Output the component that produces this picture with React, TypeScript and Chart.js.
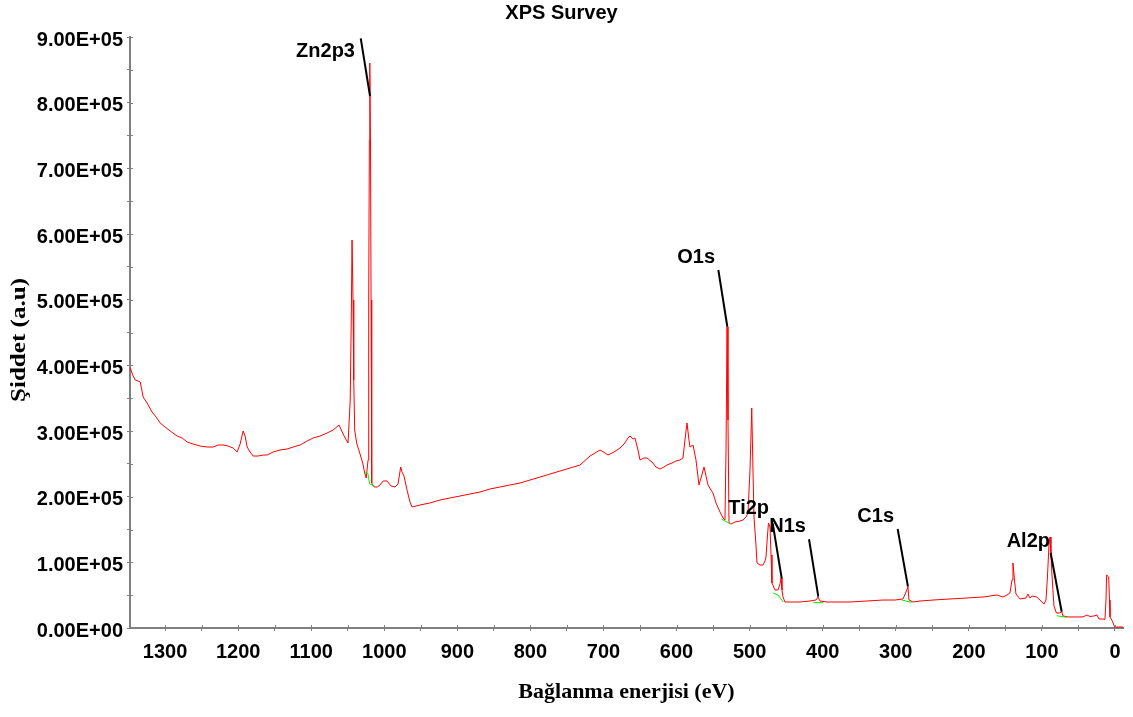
import React, { useEffect, useRef } from "react";
import { Chart, registerables } from "chart.js";

Chart.register(...registerables);

// Survey spectrum (binding energy in eV, intensity in counts)
const bindingEnergy = [1348, 1343.7, 1341, 1337, 1334, 1330, 1324.6, 1317.8, 1312.3, 1306.8, 1300, 1293, 1283.5, 1276.6, 1269.8, 1261.6, 1252, 1242.4, 1234.2, 1227.4, 1220.5, 1213.7, 1206.9, 1201.4, 1197.3, 1193.2, 1190.5, 1187.7, 1183.6, 1179.5, 1172.7, 1165.9, 1160.4, 1152.2, 1142.6, 1133, 1124.8, 1115.2, 1105.6, 1097.4, 1087.9, 1078.3, 1070.1, 1061.9, 1055, 1049.6, 1046.6, 1045.2, 1044.1, 1042.8, 1041.8, 1040.5, 1037.8, 1033.6, 1029.5, 1026.8, 1024.7, 1022.2, 1021.3, 1020.4, 1019.8, 1018.8, 1018.1, 1017.2, 1013.8, 1009.7, 1005.8, 1001.5, 996.3, 990.8, 985.3, 981.2, 977.5, 975.8, 973, 968.9, 964.8, 962, 956.5, 951, 937.4, 923.7, 910, 896.3, 882.6, 868.9, 855.3, 841.6, 827.9, 814.2, 800.5, 786.8, 773.1, 759.4, 745.8, 732.1, 718.4, 704.7, 697.9, 693.8, 685.6, 677.4, 671.9, 666.4, 663.7, 659.6, 656.9, 652.8, 650, 644.6, 640.5, 633.6, 628.2, 622.7, 617.2, 613.1, 606.2, 600.8, 595.3, 591.2, 588.5, 585.7, 583, 581.6, 577.5, 573.4, 569.3, 566.5, 562.4, 559.7, 557, 552.8, 550.1, 546, 540.5, 536.4, 533.7, 532.3, 530.9, 529.6, 528.2, 525.5, 520, 513.2, 509.1, 505, 502.2, 499.5, 497.1, 495.4, 494, 491.3, 489.9, 485.8, 481.7, 479, 477.6, 475.5, 474.2, 472.1, 470.7, 469.4, 465.3, 461.2, 458.4, 457, 455.7, 454.3, 451.6, 444.7, 431, 417.4, 409.2, 406.4, 403.7, 394.1, 383.2, 369.5, 362.6, 339.4, 317.5, 301, 290.1, 286, 283.3, 281.9, 276.4, 266.8, 249, 225.8, 202.5, 180.6, 171, 161.5, 157.4, 153.3, 147.8, 143.7, 140.9, 139.6, 137.5, 135.5, 130, 121.8, 119.1, 116.3, 113.6, 106.9, 101.3, 97.2, 94.4, 92.4, 90.3, 88.9, 87.6, 86.2, 83.5, 80.1, 75.3, 72.9, 71.2, 64.3, 54.7, 43.8, 38.3, 34.2, 28.7, 24.6, 21.9, 16.4, 13.7, 12.3, 11.4, 8.6, 7.5, 6.8, 2.9, 0, -2.7, -11];

const intensity = [397000, 383700, 377700, 376100, 374600, 351800, 342600, 328900, 321300, 312200, 306100, 300000, 292400, 289300, 283200, 280200, 277100, 275600, 275600, 278700, 278700, 277100, 274100, 268000, 280200, 300000, 292400, 275600, 268000, 261900, 261900, 263400, 263400, 268000, 271100, 272600, 275600, 278700, 284800, 289300, 292400, 296900, 301500, 309100, 292400, 281700, 347200, 469000, 590900, 499500, 377700, 301500, 281700, 266500, 251300, 236000, 228400, 255800, 499500, 743100, 860400, 728000, 499500, 220800, 214700, 214700, 217800, 223900, 223900, 216200, 214700, 219300, 245200, 237600, 231500, 210100, 191900, 184300, 185800, 187300, 190400, 194900, 198000, 201000, 204100, 207100, 211700, 214700, 217800, 220800, 225400, 229900, 234500, 239100, 243600, 248200, 261900, 271100, 266500, 263400, 268000, 274100, 280200, 289300, 292400, 287800, 289300, 271100, 255800, 258900, 258900, 252800, 245200, 242100, 245200, 248200, 251300, 254300, 255800, 258900, 286300, 312200, 286300, 275600, 278700, 255800, 217800, 228400, 245200, 231500, 217800, 210100, 205600, 190400, 176600, 167500, 164500, 271100, 458500, 316700, 159900, 158400, 161400, 162900, 164500, 169000, 175100, 240600, 335000, 240600, 169000, 126400, 99000, 95900, 95900, 102000, 108100, 141600, 159900, 153800, 111200, 68500, 57900, 57900, 67000, 76100, 57900, 47200, 39600, 39600, 39600, 41100, 42600, 47200, 41100, 39600, 39600, 39600, 39600, 41100, 42600, 42600, 44200, 54800, 62400, 42600, 39600, 41100, 42600, 44200, 45700, 47200, 48700, 50300, 48700, 47200, 50300, 53300, 73100, 99000, 73100, 51800, 44200, 45700, 51800, 45700, 48700, 47200, 41100, 36500, 42600, 77700, 126400, 138600, 111200, 80700, 33500, 22800, 22800, 25100, 18300, 16800, 16800, 16800, 19800, 17500, 18300, 19800, 13700, 13700, 13000, 42600, 80700, 77700, 42600, 16800, 9100, 0, 1500, 1500];

// Peak background (green) segments
const backgroundEnergy = [
  [1026.8, 1022.6, 1019.9, 1013.1],
  [538.5, 526.2],
  [467.6, 461.2, 453.9],
  [413, 399.3],
  [291.9, 278.2],
  [79.8, 66.1],
];
const backgroundIntensity = [
  [236000, 236000, 219300, 216200],
  [166000, 158400],
  [53300, 50300, 39600],
  [38600, 38600],
  [42600, 39100],
  [18700, 16300],
];

// Peak labels and leader lines
const peakNames = ["Zn2p3", "O1s", "Ti2p", "N1s", "C1s", "Al2p"];
const labelEnergy = [1120.7, 599, 529.2, 473.1, 352.6, 148.2];
const labelIntensity = [870000, 555400, 173600, 146600, 161900, 123800];
const leaderStartEnergy = [1032.2, 542.8, 468.4, 418.7, 297.4, 88];
const leaderStartIntensity = [898000, 545200, 159400, 135100, 150800, 114200];
const leaderEndEnergy = [1019.5, 530.5, 456.1, 406, 283.3, 72.9];
const leaderEndIntensity = [810100, 458800, 75700, 47700, 62900, 24800];

const xTickStep = 50;
const yTickStep = 50000;

function sci(v: number): string {
  if (v === 0) return "0.00E+00";
  const e = Math.floor(Math.log10(v) + 1e-9);
  const m = v / Math.pow(10, e);
  return m.toFixed(2) + "E+" + String(e).padStart(2, "0");
}

const overlayPlugin = {
  id: "xpsOverlay",
  afterDatasetsDraw(chart: any) {
    const { ctx, scales } = chart;
    const x = scales.x;
    const y = scales.y;
    ctx.save();
    ctx.fillStyle = "#000";
    ctx.font = 'bold 20px "Liberation Sans", Arial, sans-serif';
    ctx.textAlign = "left";
    ctx.textBaseline = "alphabetic";
    peakNames.forEach((n, i) => {
      ctx.fillText(n, x.getPixelForValue(labelEnergy[i]), y.getPixelForValue(labelIntensity[i]));
    });
    ctx.restore();
  },
  afterDraw(chart: any) {
    const { ctx, scales, chartArea } = chart;
    const x = scales.x;
    const y = scales.y;
    ctx.save();
    ctx.strokeStyle = "#808080";
    ctx.lineWidth = 1;
    ctx.beginPath();
    x.ticks.forEach((t: any) => {
      const px = Math.round(x.getPixelForValue(t.value)) + 0.5;
      ctx.moveTo(px, chartArea.bottom);
      ctx.lineTo(px, chartArea.bottom - 3);
    });
    y.ticks.forEach((t: any) => {
      const py = Math.round(y.getPixelForValue(t.value)) + 0.5;
      ctx.moveTo(chartArea.left, py);
      ctx.lineTo(chartArea.left + 3, py);
    });
    ctx.stroke();
    // y-axis title
    ctx.fillStyle = "#000";
    ctx.font = 'bold 22px "Liberation Serif", "Times New Roman", serif';
    ctx.textAlign = "center";
    ctx.textBaseline = "middle";
    const txt = "Şiddet (a.u)";
    const w = ctx.measureText(txt).width;
    ctx.translate(19, 340);
    ctx.rotate(-Math.PI / 2);
    ctx.scale(124 / w, 1);
    ctx.fillText(txt, 0, 0);
    ctx.restore();
  },
};

export default function App() {
  const ref = useRef<HTMLCanvasElement | null>(null);
  useEffect(() => {
    if (!ref.current) return;
    const spectrum = bindingEnergy.map((e, i) => ({ x: e, y: intensity[i] }));
    const bgSets = backgroundEnergy.map((arr, k) => ({
      data: arr.map((e, i) => ({ x: e, y: backgroundIntensity[k][i] })),
      borderColor: "#00ee00",
      borderWidth: 1,
      pointRadius: 0,
      tension: 0,
    }));
    const leaderSets = peakNames.map((_, i) => ({
      data: [
        { x: leaderStartEnergy[i], y: leaderStartIntensity[i] },
        { x: leaderEndEnergy[i], y: leaderEndIntensity[i] },
      ],
      borderColor: "#000",
      borderWidth: 2,
      pointRadius: 0,
      tension: 0,
    }));
    const chart = new Chart(ref.current, {
      type: "line",
      data: {
        datasets: [
          ...leaderSets,
          ...bgSets,
          {
            data: spectrum,
            borderColor: "#ff0000",
            borderWidth: 1,
            pointRadius: 0,
            tension: 0,
          },
        ] as any,
      },
      plugins: [overlayPlugin],
      options: {
        responsive: false,
        animation: false,
        devicePixelRatio: 1,
        layout: { padding: { top: 0, right: 10, bottom: 0, left: 0 } },
        plugins: {
          legend: { display: false },
          tooltip: { enabled: false },
          title: {
            display: true,
            text: "XPS Survey",
            color: "#000",
            font: { family: '"Liberation Sans", Arial, sans-serif', size: 20, weight: "bold", lineHeight: 1.2 },
            padding: { top: 1, bottom: 12 },
          },
        },
        scales: {
          x: {
            type: "linear",
            reverse: true,
            min: -11,
            max: 1348,
            afterFit: (s: any) => {
              s.height = 89;
            },
            afterBuildTicks: (s: any) => {
              s.ticks = s.ticks.filter((t: any) => Math.abs(t.value % xTickStep) < 1e-6);
            },
            ticks: {
              stepSize: xTickStep,
              includeBounds: false,
              autoSkip: false,
              maxRotation: 0,
              padding: 9,
              color: "#000",
              font: { family: '"Liberation Sans", Arial, sans-serif', size: 20, weight: "bold" },
              callback: (v: any) => (Number(v) % 100 === 0 ? String(v) : ""),
            },
            grid: { drawOnChartArea: false, drawTicks: true, tickLength: 3, color: "#808080", lineWidth: 1 },
            border: { display: true, color: "#808080", width: 2 },
            title: {
              display: true,
              text: "Bağlanma enerjisi (eV)",
              color: "#000",
              font: { family: '"Liberation Serif", "Times New Roman", serif', size: 22, weight: "bold", lineHeight: 1.2 },
              padding: { top: 0, bottom: 11 },
            },
          },
          y: {
            type: "linear",
            min: 0,
            max: 900000,
            afterFit: (s: any) => {
              s.width = 130;
            },
            ticks: {
              stepSize: yTickStep,
              autoSkip: false,
              padding: 4,
              labelOffset: 3,
              color: "#000",
              font: { family: '"Liberation Sans", Arial, sans-serif', size: 20, weight: "bold" },
              callback: (v: any) => (Number(v) % 100000 === 0 ? sci(Number(v)) : ""),
            },
            grid: { drawOnChartArea: false, drawTicks: true, tickLength: 3, color: "#808080", lineWidth: 1 },
            border: { display: true, color: "#808080", width: 2 },
          },
        },
      } as any,
    });
    return () => chart.destroy();
  }, []);
  return (
    <div style={{ position: "absolute", left: 0, top: 0, width: 1133, height: 717, background: "#fff" }}>
      <canvas ref={ref} width={1133} height={717} style={{ display: "block" }} />
    </div>
  );
}
